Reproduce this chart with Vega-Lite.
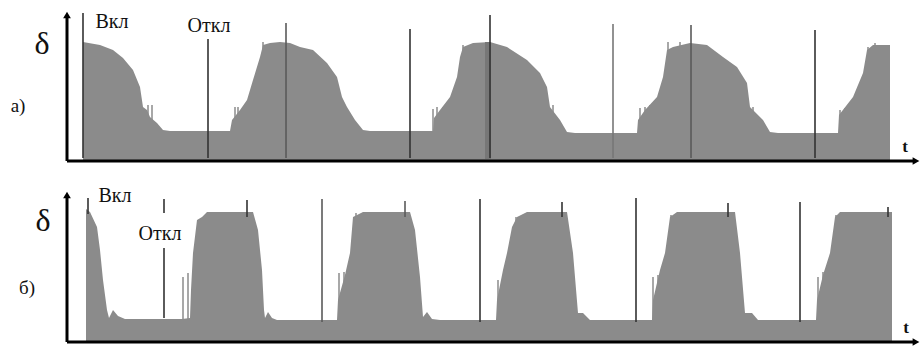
{
  "$schema": "https://vega.github.io/schema/vega-lite/v6.json",
  "padding": 0,
  "spacing": 0,
  "background": "white",
  "config": {"view": {"stroke": null}},
  "datasets": {
    "a_area": [
      {"t":16,"d":119},{"t":33,"d":116},{"t":46,"d":111},{"t":56,"d":103},{"t":66,"d":91},{"t":73,"d":74},{"t":76,"d":54},{"t":80,"d":51},{"t":83,"d":44},{"t":90,"d":38},{"t":96,"d":31},{"t":103,"d":30},
      {"t":163,"d":30},{"t":165,"d":41},{"t":173,"d":51},{"t":180,"d":61},{"t":186,"d":81},{"t":193,"d":104},{"t":196,"d":116},{"t":203,"d":118},{"t":213,"d":119},{"t":223,"d":118},{"t":233,"d":114},{"t":246,"d":111},{"t":260,"d":98},{"t":270,"d":84},{"t":275,"d":64},{"t":280,"d":54},{"t":288,"d":41},{"t":296,"d":31},{"t":303,"d":30},
      {"t":366,"d":30},{"t":367,"d":43},{"t":373,"d":51},{"t":383,"d":64},{"t":390,"d":84},{"t":393,"d":104},{"t":396,"d":114},{"t":406,"d":118},{"t":423,"d":119},{"t":440,"d":114},{"t":460,"d":101},{"t":473,"d":88},{"t":480,"d":74},{"t":483,"d":54},{"t":493,"d":41},{"t":500,"d":29},{"t":508,"d":28},
      {"t":570,"d":28},{"t":571,"d":41},{"t":578,"d":51},{"t":590,"d":64},{"t":596,"d":84},{"t":600,"d":111},{"t":606,"d":114},{"t":623,"d":118},{"t":640,"d":116},{"t":656,"d":104},{"t":670,"d":94},{"t":680,"d":78},{"t":683,"d":54},{"t":696,"d":41},{"t":703,"d":29},{"t":711,"d":28},
      {"t":771,"d":28},{"t":772,"d":46},{"t":786,"d":64},{"t":796,"d":88},{"t":800,"d":111},{"t":806,"d":116},{"t":823,"d":116}
    ],
    "a_spikes": [
      {"t":81,"d":56},{"t":85,"d":56},{"t":168,"d":54},{"t":171,"d":54},{"t":196,"d":119},{"t":366,"d":52},{"t":370,"d":54},{"t":376,"d":54},{"t":396,"d":116},{"t":486,"d":56},{"t":573,"d":53},{"t":578,"d":54},{"t":583,"d":56},{"t":601,"d":119},{"t":613,"d":119},{"t":686,"d":54},{"t":773,"d":51},{"t":778,"d":53},{"t":801,"d":114},{"t":808,"d":118}
    ],
    "a_marks": [
      {"t":16,"d":3,"d2":148,"kind":"dark"},{"t":141,"d":3,"d2":122,"kind":"dark"},{"t":219,"d":3,"d2":138,"kind":"mid"},{"t":343,"d":3,"d2":132,"kind":"dark"},{"t":423,"d":3,"d2":146,"kind":"dark"},{"t":546,"d":3,"d2":137,"kind":"light"},{"t":624,"d":3,"d2":136,"kind":"mid"},{"t":748,"d":3,"d2":131,"kind":"dark"}
    ],
    "a_band": [{"t":421,"d":2,"d2":119}],
    "a_axes": [{"t":0,"t2":0,"d":0,"d2":145},{"t":0,"t2":848,"d":0,"d2":0}],
    "a_arrows": [{"t":0,"d":146,"shape":"triangle-up"},{"t":849,"d":0,"shape":"triangle-right"}],
    "a_text": [
      {"t":-25,"d":117,"label":"δ","role":"sym"},
      {"t":-49,"d":55,"label":"а)","role":"panel"},
      {"t":45,"d":139,"label":"Вкл","role":"lab"},
      {"t":142,"d":135,"label":"Откл","role":"lab"},
      {"t":838,"d":14,"label":"t","role":"ax"}
    ],
    "b_area": [
      {"t":19,"d":133},{"t":23,"d":130},{"t":30,"d":115},{"t":33,"d":92},{"t":36,"d":62},{"t":40,"d":32},{"t":42,"d":24},{"t":46,"d":32},{"t":51,"d":26},{"t":58,"d":23},
      {"t":115,"d":23},{"t":123,"d":24},{"t":124,"d":52},{"t":126,"d":89},{"t":130,"d":122},{"t":135,"d":125},{"t":140,"d":130},{"t":186,"d":130},{"t":191,"d":112},{"t":195,"d":72},{"t":197,"d":32},{"t":198,"d":24},{"t":201,"d":30},{"t":205,"d":24},{"t":210,"d":22},
      {"t":270,"d":22},{"t":271,"d":42},{"t":278,"d":67},{"t":283,"d":89},{"t":286,"d":125},{"t":296,"d":130},{"t":343,"d":130},{"t":348,"d":112},{"t":353,"d":65},{"t":356,"d":25},{"t":360,"d":30},{"t":365,"d":23},{"t":373,"d":22},
      {"t":429,"d":22},{"t":430,"d":42},{"t":436,"d":72},{"t":440,"d":89},{"t":445,"d":115},{"t":450,"d":125},{"t":460,"d":130},{"t":500,"d":130},{"t":506,"d":89},{"t":511,"d":29},{"t":516,"d":29},{"t":523,"d":22},
      {"t":585,"d":22},{"t":586,"d":42},{"t":593,"d":72},{"t":598,"d":89},{"t":603,"d":125},{"t":610,"d":130},{"t":668,"d":130},{"t":673,"d":89},{"t":678,"d":29},{"t":685,"d":29},{"t":691,"d":22},
      {"t":749,"d":22},{"t":750,"d":42},{"t":756,"d":67},{"t":763,"d":89},{"t":768,"d":125},{"t":773,"d":130},{"t":825,"d":130}
    ],
    "b_spikes": [
      {"t":116,"d":65},{"t":121,"d":69},{"t":272,"d":69},{"t":277,"d":70},{"t":289,"d":129},{"t":431,"d":62},{"t":436,"d":67},{"t":449,"d":125},{"t":586,"d":65},{"t":591,"d":67},{"t":604,"d":127},{"t":751,"d":65},{"t":756,"d":70},{"t":769,"d":127}
    ],
    "b_marks": [
      {"t":21,"d":128,"d2":144,"kind":"dark"},
      {"t":97,"d":129,"d2":143,"kind":"dark"},{"t":97,"d":24,"d2":94,"kind":"dark"},
      {"t":180,"d":125,"d2":142,"kind":"dark"},
      {"t":255,"d":20,"d2":143,"kind":"mid"},
      {"t":338,"d":125,"d2":141,"kind":"mid"},
      {"t":413,"d":20,"d2":143,"kind":"dark"},
      {"t":495,"d":125,"d2":140,"kind":"dark"},
      {"t":569,"d":20,"d2":144,"kind":"dark"},
      {"t":661,"d":125,"d2":139,"kind":"dark"},
      {"t":733,"d":20,"d2":140,"kind":"dark"},
      {"t":821,"d":125,"d2":135,"kind":"dark"}
    ],
    "b_axes": [{"t":0,"t2":0,"d":0,"d2":146},{"t":0,"t2":848,"d":0,"d2":0}],
    "b_arrows": [{"t":0,"d":147,"shape":"triangle-up"},{"t":849,"d":0,"shape":"triangle-right"}],
    "b_text": [
      {"t":-24,"d":121,"label":"δ","role":"sym"},
      {"t":-40,"d":54,"label":"б)","role":"panel"},
      {"t":48,"d":146,"label":"Вкл","role":"lab"},
      {"t":93,"d":108,"label":"Откл","role":"lab"},
      {"t":839,"d":14,"label":"t","role":"ax"}
    ]
  },
  "vconcat": [
    {
      "width": 922,
      "height": 174,
      "encoding": {
        "x": {"field": "t", "type": "quantitative", "scale": {"domain": [-67, 855], "nice": false, "zero": false}, "axis": null},
        "y": {"field": "d", "type": "quantitative", "scale": {"domain": [-13, 161], "nice": false, "zero": false}, "axis": null}
      },
      "layer": [
        {"data": {"name": "a_area"}, "mark": {"type": "area", "color": "#8b8b8b"}, "encoding": {"y2": {"datum": 0}}},
        {"data": {"name": "a_spikes"}, "mark": {"type": "rule", "color": "#8b8b8b", "strokeWidth": 1.5}, "encoding": {"y2": {"datum": 0}}},
        {"data": {"name": "a_band"}, "mark": {"type": "rule", "color": "#777777", "strokeWidth": 6}, "encoding": {"y2": {"field": "d2"}}},
        {"data": {"name": "a_marks"}, "mark": {"type": "rule", "strokeWidth": 1.6}, "encoding": {"y2": {"field": "d2"}, "color": {"field": "kind", "type": "nominal", "scale": {"domain": ["dark", "mid", "light"], "range": ["#333333", "#5a5a5a", "#777777"]}, "legend": null}}},
        {"data": {"name": "a_axes"}, "mark": {"type": "rule", "color": "#000000", "strokeWidth": 3}, "encoding": {"x2": {"field": "t2"}, "y2": {"field": "d2"}}},
        {"data": {"name": "a_arrows"}, "mark": {"type": "point", "filled": true, "color": "#000000", "size": 60, "opacity": 1}, "encoding": {"shape": {"field": "shape", "type": "nominal", "scale": null}}},
        {"data": {"name": "a_text"}, "transform": [{"filter": "datum.role === 'sym'"}], "mark": {"type": "text", "font": "Liberation Serif", "fontSize": 32, "color": "#111111", "baseline": "middle", "align": "center"}, "encoding": {"text": {"field": "label"}}},
        {"data": {"name": "a_text"}, "transform": [{"filter": "datum.role === 'panel'"}], "mark": {"type": "text", "font": "Liberation Serif", "fontSize": 19, "color": "#111111", "baseline": "middle", "align": "center"}, "encoding": {"text": {"field": "label"}}},
        {"data": {"name": "a_text"}, "transform": [{"filter": "datum.role === 'lab'"}], "mark": {"type": "text", "font": "Liberation Serif", "fontSize": 20, "color": "#111111", "baseline": "middle", "align": "center"}, "encoding": {"text": {"field": "label"}}},
        {"data": {"name": "a_text"}, "transform": [{"filter": "datum.role === 'ax'"}], "mark": {"type": "text", "font": "Liberation Serif", "fontSize": 17, "fontWeight": "bold", "color": "#111111", "baseline": "middle", "align": "center"}, "encoding": {"text": {"field": "label"}}}
      ]
    },
    {
      "width": 922,
      "height": 173,
      "encoding": {
        "x": {"field": "t", "type": "quantitative", "scale": {"domain": [-67, 855], "nice": false, "zero": false}, "axis": null},
        "y": {"field": "d", "type": "quantitative", "scale": {"domain": [-5, 168], "nice": false, "zero": false}, "axis": null}
      },
      "layer": [
        {"data": {"name": "b_area"}, "mark": {"type": "area", "color": "#8b8b8b"}, "encoding": {"y2": {"datum": 0}}},
        {"data": {"name": "b_spikes"}, "mark": {"type": "rule", "color": "#8b8b8b", "strokeWidth": 1.5}, "encoding": {"y2": {"datum": 0}}},
        {"data": {"name": "b_marks"}, "mark": {"type": "rule", "strokeWidth": 1.6}, "encoding": {"y2": {"field": "d2"}, "color": {"field": "kind", "type": "nominal", "scale": {"domain": ["dark", "mid", "light"], "range": ["#333333", "#5a5a5a", "#777777"]}, "legend": null}}},
        {"data": {"name": "b_axes"}, "mark": {"type": "rule", "color": "#000000", "strokeWidth": 3}, "encoding": {"x2": {"field": "t2"}, "y2": {"field": "d2"}}},
        {"data": {"name": "b_arrows"}, "mark": {"type": "point", "filled": true, "color": "#000000", "size": 60, "opacity": 1}, "encoding": {"shape": {"field": "shape", "type": "nominal", "scale": null}}},
        {"data": {"name": "b_text"}, "transform": [{"filter": "datum.role === 'sym'"}], "mark": {"type": "text", "font": "Liberation Serif", "fontSize": 32, "color": "#111111", "baseline": "middle", "align": "center"}, "encoding": {"text": {"field": "label"}}},
        {"data": {"name": "b_text"}, "transform": [{"filter": "datum.role === 'panel'"}], "mark": {"type": "text", "font": "Liberation Serif", "fontSize": 19, "color": "#111111", "baseline": "middle", "align": "center"}, "encoding": {"text": {"field": "label"}}},
        {"data": {"name": "b_text"}, "transform": [{"filter": "datum.role === 'lab'"}], "mark": {"type": "text", "font": "Liberation Serif", "fontSize": 20, "color": "#111111", "baseline": "middle", "align": "center"}, "encoding": {"text": {"field": "label"}}},
        {"data": {"name": "b_text"}, "transform": [{"filter": "datum.role === 'ax'"}], "mark": {"type": "text", "font": "Liberation Serif", "fontSize": 17, "fontWeight": "bold", "color": "#111111", "baseline": "middle", "align": "center"}, "encoding": {"text": {"field": "label"}}}
      ]
    }
  ]
}
